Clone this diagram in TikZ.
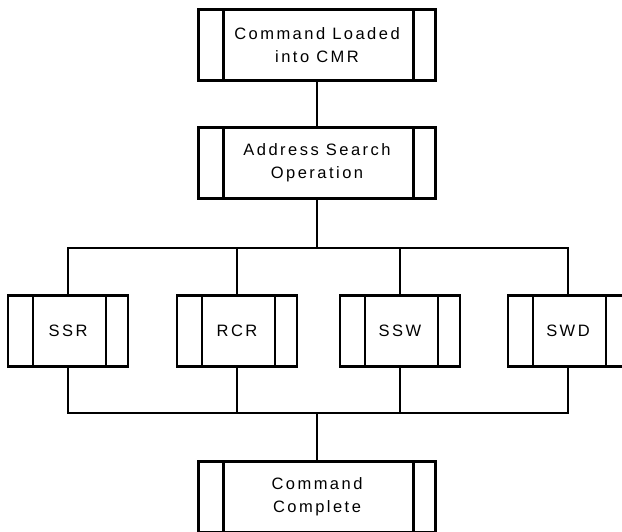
\documentclass[tikz,border=0pt]{standalone}
\usepackage{fontspec}
\newfontfamily\boxfont{Liberation Sans}[LetterSpace=15]
\begin{document}
\begin{tikzpicture}[x=1pt,y=-1pt]
    \tikzstyle{link} = [line width=2.2pt]
    \tikzstyle{unit} = [rectangle, draw=black, line width=2.2pt, align=center,
        minimum height=71pt, font=\boxfont\fontsize{16.5}{23}\selectfont,
        path picture={
            \draw[line width=2.2pt]
                ([xshift=25pt]path picture bounding box.north west) --
                ([xshift=25pt]path picture bounding box.south west);
            \draw[line width=2.2pt]
                ([xshift=-22pt]path picture bounding box.north east) --
                ([xshift=-22pt]path picture bounding box.south east);
        }]
    \tikzstyle{big} = [unit, minimum width=237pt]
    \tikzstyle{small} = [unit, minimum width=120pt]

    \useasboundingbox (0,0) rectangle (622,531);
    \clip (0,0) rectangle (622,531);

    \node(loaded) [big] at (317,45) {Command Loaded\\ into CMR};
    \node(search) [big] at (317,163) {Address Search\\ Operation};

    \node(ssr) [small] at (68,331) {SSR};
    \node(rcr) [small] at (237,331) {RCR};
    \node(ssw) [small] at (400,331) {SSW};
    \node(swd) [small] at (568,331) {SWD};

    \node(complete) [big] at (317,497) {Command\\ Complete};

    \coordinate(fork) at (317,248);
    \coordinate(join) at (317,413);

    \draw[link] (loaded) -- (search);
    \draw[link] (search) -- (fork);
    \draw[link] (ssr.north) |- (swd.north |- fork) -- (swd.north);
    \draw[link] (rcr.north) -- (rcr.north |- fork);
    \draw[link] (ssw.north) -- (ssw.north |- fork);

    \draw[link] (ssr.south) |- (swd.south |- join) -- (swd.south);
    \draw[link] (rcr.south) -- (rcr.south |- join);
    \draw[link] (ssw.south) -- (ssw.south |- join);
    \draw[link] (join) -- (complete);
\end{tikzpicture}
\end{document}
